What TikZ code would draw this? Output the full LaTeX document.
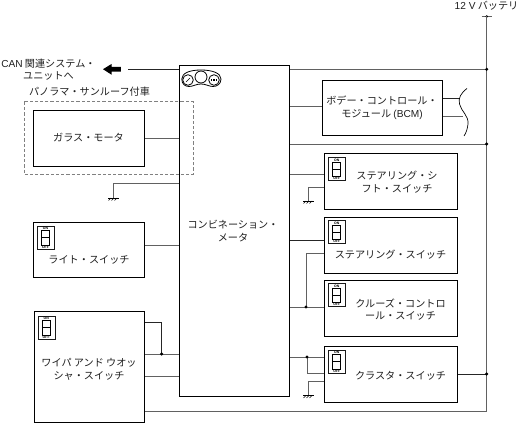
\documentclass[tikz,border=0pt]{standalone}
\usepackage{fontspec}
\setmainfont{Liberation Sans}
\newfontfamily\cjk{Noto Sans CJK JP}
\usetikzlibrary{calc}
\definecolor{wire}{gray}{0.38}
\newcommand{\la}[1]{{\rmfamily #1}}
\newcommand{\lblfont}{\cjk\fontsize{7.6pt}{9.6pt}\selectfont\setlength{\lineskiplimit}{-6pt}}
\newcommand{\tinyfont}{\fontsize{2.6pt}{3pt}\selectfont\bfseries}
\tikzset{
 x=0.75pt,y=-0.75pt,
 box/.style={draw=black,line width=0.85pt,fill=white,anchor=north west,inner sep=0pt},
 lbl/.style={font=\lblfont,align=center,text=black!88,inner sep=0pt},
 wr/.style={draw=wire,line width=0.75pt},
 wd/.style={draw=black!85,line width=0.6pt},
 dot/.style={circle,fill=black,inner sep=0pt,minimum size=2.6pt},
 swicon/.style={draw=black!90,line width=0.75pt,fill=white,anchor=north west,inner sep=0pt,minimum width=17*0.75pt,minimum height=23*0.75pt},
 tinytxt/.style={font=\tinyfont,inner sep=0pt}
}
\newcommand{\gnd}[1]{\draw[line width=0.55pt] ($(#1)+(-5.5,0)$) -- ($(#1)+(5.5,0)$);
 \foreach \k in {-5,-2,1}{\draw[line width=0.4pt] ($(#1)+(\k,2.5)$) -- ($(#1)+(\k+2.5,0)$);}}
\newcommand{\swi}[2]{\node[swicon] (#1) at (#2) {};
 \draw[line width=0.5pt] ($(#1.north west)+(4.2,4.8)$) rectangle ($(#1.north west)+(12.5,19)$);
 \draw[line width=0.5pt] ($(#1.north west)+(4.2,11.7)$) -- ($(#1.north west)+(12.5,11.7)$);
 \node[tinytxt] (#1on) at ($(#1.north west)+(8.5,2.6)$) {ON};
 \node[tinytxt] (#1off) at ($(#1.north west)+(8.5,21)$) {OFF};}
\begin{document}
\begin{tikzpicture}
\useasboundingbox (0,0) rectangle (520,424);
\fill[white] (0,0) rectangle (520,424);
% coordinates
\coordinate (top) at (486.7,16.5);
\coordinate (bot) at (486.7,411.3);
\coordinate (gs) at (113.5,198);
\coordinate (g2) at (308.5,201);
\coordinate (g3) at (308.5,395.5);
% wires behind
\draw[wr] ($(top)+(-5,0)$) -- ($(top)+(5,0)$);
\node[dot,minimum size=2pt] at (top) {};
\draw[wr] (top) -- (bot);
\draw[wr] (144,411.3) -- (bot);
\draw[wd] (128,69.3) -- (179,69.3);
\draw[wr] (289,69.3) -- (486.7,69.3) node[dot,pos=1]{};
\draw[wr] (289,144) -- (486.7,144) node[dot,pos=1]{};
\draw[wr] (289,107) -- (322,107);
\draw[wd] (442,98) -- (460,98);
\draw[wr] (442,116.7) -- (463,116.7);
\draw[line width=0.5pt] (467,88.5) .. controls (461,93) and (458,98) .. (459.5,104) .. controls (461,111) and (469,116) .. (468,124) .. controls (467.5,129) and (466,133) .. (464,136);
\draw[wr] (144,138) -- (179,138);
\draw[wr] (179,183.5) -- (113.5,183.5) -- (gs);
\gnd{gs}
\draw[wr] (144,245.7) -- (179,245.7);
\draw[wr] (289,174.3) -- (324,174.3);
\draw[wr] (324,187.3) -- (308,187.3) -- (308,201);
\gnd{g2}
\draw[wd] (289,240.3) -- (324,240.3);
\draw[wr] (324,253.3) -- (306,253.3) -- (306,307);
\draw[wr] (289,307) -- (324,307);
\draw[wr] (289,357) -- (324,357);
\draw[wr] (307,357) -- (307,373.3) -- (324,373.3);
\draw[wr] (324,381) -- (308,381) -- (308,395.5);
\gnd{g3}
\draw[wd] (457,374) -- (486.7,374) node[dot,pos=1]{};
\draw[wr] (144,354) -- (179,354);
\draw[wr] (144,376.7) -- (179,376.7);
\draw[wd] (144,322) -- (161.7,322) -- (161.7,354);
\node[dot] at (161.7,354) {};
\node[dot] at (306,307) {};
\node[dot] at (307,357) {};
% nodes
\node[box,minimum width=111*0.75pt,minimum height=55.5*0.75pt] (glass) at (33,110) {};
\node[lbl] at (88.5,138) {ガラス・モータ};
\node[box,minimum width=111*0.75pt,minimum height=55.5*0.75pt] (light) at (33,221.5) {};
\node[lbl] at (89,260) {ライト・スイッチ};
\node[box,minimum width=110.3*0.75pt,minimum height=110.7*0.75pt] (wiper) at (34,311.3) {};
\node[lbl] at (89,369.5) {ワイパ アンド ウオッ\\シャ・スイッチ};
\node[box,minimum width=110.3*0.75pt,minimum height=331*0.75pt] (combi) at (178.7,65) {};
\node[lbl] at (233,231) {コンビネーション・\\メータ};
\node[box,minimum width=120*0.75pt,minimum height=55*0.75pt] (bcm) at (322,80) {};
\node[lbl] at (382,107.5) {ボデー・コントロール・\\モジュール \la{(BCM)}};
\node[box,minimum width=133*0.75pt,minimum height=55.5*0.75pt] (sshift) at (324,153.3) {};
\node[lbl] at (397,182) {ステアリング・シ\\フト・スイッチ};
\node[box,minimum width=133*0.75pt,minimum height=55.5*0.75pt] (steer) at (324,217) {};
\node[lbl] at (390.5,255) {ステアリング・スイッチ};
\node[box,minimum width=133*0.75pt,minimum height=56*0.75pt] (cruise) at (324,280) {};
\node[lbl] at (400.5,309.5) {クルーズ・コントロ\\ール・スイッチ};
\node[box,minimum width=133*0.75pt,minimum height=56*0.75pt] (clus) at (324,346) {};
\node[lbl] at (400.5,376) {クラスタ・スイッチ};
\node[lbl,anchor=west] at (1,64) {\la{CAN} 関連システム・};
\node[lbl] at (48.5,76) {ユニットへ};
\node[lbl] at (89.5,92) {パノラマ・サンルーフ付車};
\node[lbl] at (486.5,6) {\la{12 V} バッテリ};
\swi{s1}{328.3,157.3}
\swi{s2}{328.3,220.3}
\swi{s3}{328.3,283.3}
\swi{s4}{328.3,350}
\swi{s5}{37,226}
\swi{s6}{37.7,316}
% dashed
\draw[gray,line width=0.75pt,dash pattern=on 2.4pt off 1.5pt] (24,102) rectangle (193,174);
% gauges
\draw[line width=0.6pt] (181.8,79) .. controls (181.8,73) and (190,70) .. (201,70) .. controls (212,70) and (221,73) .. (221,79) .. controls (221,84) and (217,86.5) .. (213,86.5) .. controls (209,86.5) and (206,84) .. (201,84) .. controls (196,84) and (193,86.5) .. (189,86.5) .. controls (185,86.5) and (181.8,84) .. (181.8,79);
\draw[line width=0.6pt,fill=white] (188,80) circle (5.3); \draw[line width=0.6pt,fill=white] (201,77) circle (6); \draw[line width=0.6pt,fill=white] (214,80) circle (5.3);
\draw[line width=0.4pt] (186,82) -- (190,78);
\draw[line width=0.8pt,dash pattern=on 1pt off 0.8pt] (211,80) -- (217,80);
% big arrow
\fill (103,69.2) -- (111.5,64) -- (111.5,66.8) -- (120.8,66.8) -- (120.8,71.6) -- (111.5,71.6) -- (111.5,74.7) -- cycle;
\end{tikzpicture}
\end{document}
